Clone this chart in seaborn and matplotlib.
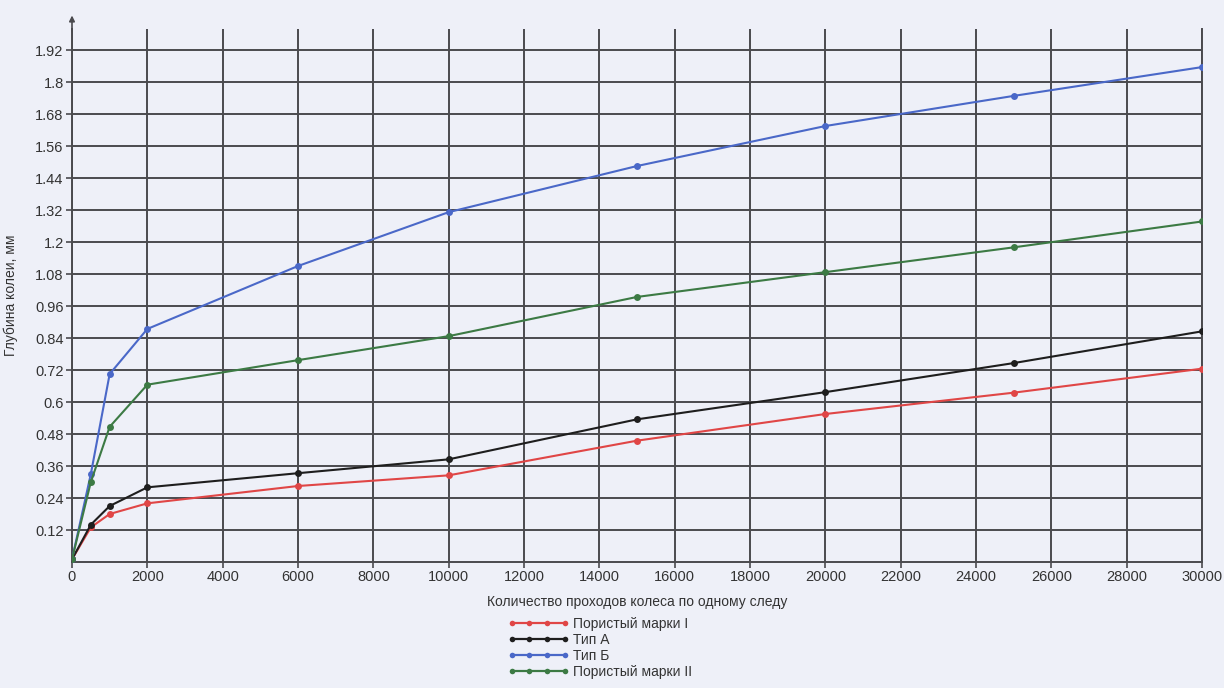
import numpy as np
import pandas as pd
import seaborn as sns
import matplotlib
matplotlib.use("Agg")
import matplotlib.pyplot as plt

passes = [0, 500, 1000, 2000, 6000, 10000, 15000, 20000, 25000, 30000]
porous_1 = [0.01, 0.13, 0.18, 0.22, 0.285, 0.325, 0.455, 0.555, 0.635, 0.725]
type_a = [0.01, 0.14, 0.21, 0.28, 0.333, 0.385, 0.535, 0.637, 0.746, 0.865]
type_b = [0.01, 0.33, 0.705, 0.874, 1.11, 1.312, 1.485, 1.635, 1.748, 1.856]
porous_2 = [0.01, 0.30, 0.507, 0.665, 0.757, 0.847, 0.994, 1.087, 1.18, 1.277]

series_names = ["Пористый марки I", "Тип А", "Тип Б", "Пористый марки II"]
series_values = [porous_1, type_a, type_b, porous_2]
colors = ["#e04646", "#1e1e1e", "#4a68c8", "#3c7a44"]

x_ticks = list(range(0, 30001, 2000))
y_ticks = [round(0.12 * i, 2) for i in range(1, 17)]
y_tick_labels = ["0.12", "0.24", "0.36", "0.48", "0.6", "0.72", "0.84", "0.96",
                 "1.08", "1.2", "1.32", "1.44", "1.56", "1.68", "1.8", "1.92"]

df = pd.concat([pd.DataFrame({"x": passes, "y": v, "s": n})
                for n, v in zip(series_names, series_values)], ignore_index=True)

sns.set_theme(style="white")
plt.rcParams["font.family"] = ["Liberation Sans Narrow", "Liberation Sans", "DejaVu Sans"]
bg = "#eef0f8"
fig = plt.figure(figsize=(12.24, 6.88), dpi=100, facecolor=bg)
ax = fig.add_axes([72 / 1224, 1 - 562 / 688, (1202 - 72) / 1224, (562 - 28.7) / 688])
ax.set_facecolor(bg)

sns.lineplot(data=df, x="x", y="y", hue="s", palette=dict(zip(series_names, colors)),
             marker="o", markersize=5, markeredgewidth=0, linewidth=1.5,
             ax=ax, legend=False, zorder=3)

ax.set_xlim(0, 30000)
ax.set_ylim(0, 2.0)
ax.set_xticks(x_ticks)
ax.set_xticklabels(["0"] + [str(v) for v in x_ticks[1:]])
ax.set_yticks(y_ticks)
ax.set_yticklabels(y_tick_labels)
gc = "#4a4a4e"
ax.grid(True, color=gc, linewidth=1.4, zorder=1)
ax.spines["top"].set_visible(False)
for s in ["left", "bottom", "right"]:
    ax.spines[s].set_color(gc)
    ax.spines[s].set_linewidth(1.4)
ax.tick_params(axis="both", which="both", length=4, width=1.2, color=gc,
               labelsize=10.5, labelcolor="#333333", pad=2, left=True, bottom=True)
ax.set_xlabel("Количество проходов колеса по одному следу", fontsize=10, color="#333333", labelpad=8)
ax.set_ylabel("Глубина колеи, мм", fontsize=10, color="#333333", labelpad=12)

# axis arrow on top of y axis
ax.annotate("", xy=(0, 1.03), xycoords="axes fraction", xytext=(0, 0.99),
            arrowprops=dict(arrowstyle="-|>", color=gc, lw=1.2, mutation_scale=8))

handles = [plt.Line2D([0], [0], color=c, marker="o", markersize=4, linewidth=1.6, markeredgewidth=0)
           for c in colors]
leg = fig.legend(handles, series_names, loc="upper center", bbox_to_anchor=(0.49, 0.122),
                 frameon=False, numpoints=4, handlelength=4.4, handletextpad=0.3,
                 labelspacing=0.15, fontsize=10)
for t in leg.get_texts():
    t.set_color("#333333")

fig.savefig("out.png", dpi=100, facecolor=bg)
